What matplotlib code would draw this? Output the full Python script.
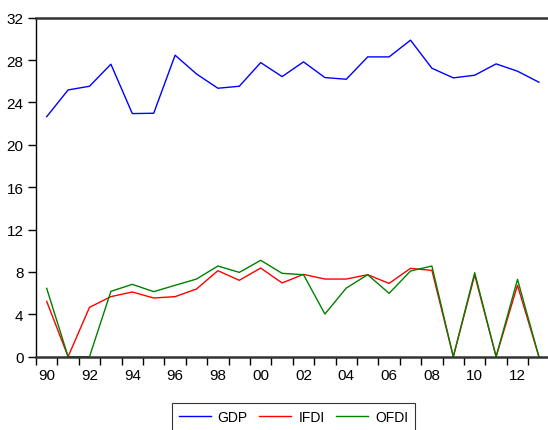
import numpy as np
import matplotlib.pyplot as plt

plt.rcParams['font.family'] = ['Liberation Sans', 'DejaVu Sans']

# ==========================================================
# data
# ==========================================================

years = list(range(1990, 2014))

gdp = [22.66, 25.18, 25.53, 27.61, 22.95, 22.98, 28.46, 26.69, 25.34, 25.53,
       27.76, 26.44, 27.83, 26.35, 26.19, 28.30, 28.30, 29.88, 27.23, 26.32,
       26.57, 27.64, 26.95, 25.91]

ifdi = [5.22, 0.0, 4.66, 5.67, 6.11, 5.54, 5.67, 6.39, 8.12, 7.21,
        8.37, 6.96, 7.77, 7.33, 7.33, 7.74, 6.92, 8.34, 8.15, 0.0,
        7.71, 0.0, 6.74, 0.0]

ofdi = [6.45, 0.0, 0.0, 6.17, 6.83, 6.14, 6.74, 7.33, 8.56, 7.96,
        9.10, 7.87, 7.74, 4.03, 6.48, 7.74, 5.98, 8.09, 8.56, 0.0,
        7.93, 0.0, 7.30, 0.0]

y_ticks = [0, 4, 8, 12, 16, 20, 24, 28, 32]

# ==========================================================
# plot
# ==========================================================

fig = plt.figure(figsize=(5.48, 4.31), dpi=100)
ax = fig.add_axes([36 / 548, 73.3 / 431, 513.6 / 548, 339 / 431])

x = np.arange(len(years))

ax.plot(x, gdp, color="#0000FF", lw=1.0, label="GDP")
ax.plot(x, ifdi, color="#FF0000", lw=1.0, label="IFDI")
ax.plot(x, ofdi, color="#008000", lw=1.0, label="OFDI")

ax.set_xlim(-0.5, len(years) - 0.5)
ax.set_ylim(0, 32)

# period boundary ticks, labels at even years
ax.set_xticks(np.arange(len(years) + 1) - 0.5)
ax.set_xticklabels([])
ax.set_xticks(x[::2], minor=True)
ax.set_xticklabels([str(y)[2:] for y in years[::2]], minor=True)
ax.tick_params(axis="x", which="major", direction="out", length=5.5, width=1)
ax.tick_params(axis="x", which="minor", length=0, pad=8, labelsize=11)

ax.set_yticks(y_ticks)
ax.tick_params(axis="y", direction="out", length=5.5, width=1, pad=3.5, labelsize=11)

for side in ["top", "bottom"]:
    ax.spines[side].set_color("#333333")
    ax.spines[side].set_linewidth(1.8)
ax.spines["left"].set_linewidth(1.0)
ax.spines["right"].set_visible(False)

leg = fig.legend(
    loc="upper center",
    bbox_to_anchor=(293.5 / 548, 1 - 404.3 / 431),
    borderaxespad=0,
    ncol=3,
    fontsize=10,
    frameon=True,
    fancybox=False,
    handlelength=2.3,
    handletextpad=0.5,
    columnspacing=0.85,
    borderpad=0.5,
)
leg.get_frame().set_edgecolor("black")
leg.get_frame().set_linewidth(0.8)

fig.savefig("out.png", dpi=100)
